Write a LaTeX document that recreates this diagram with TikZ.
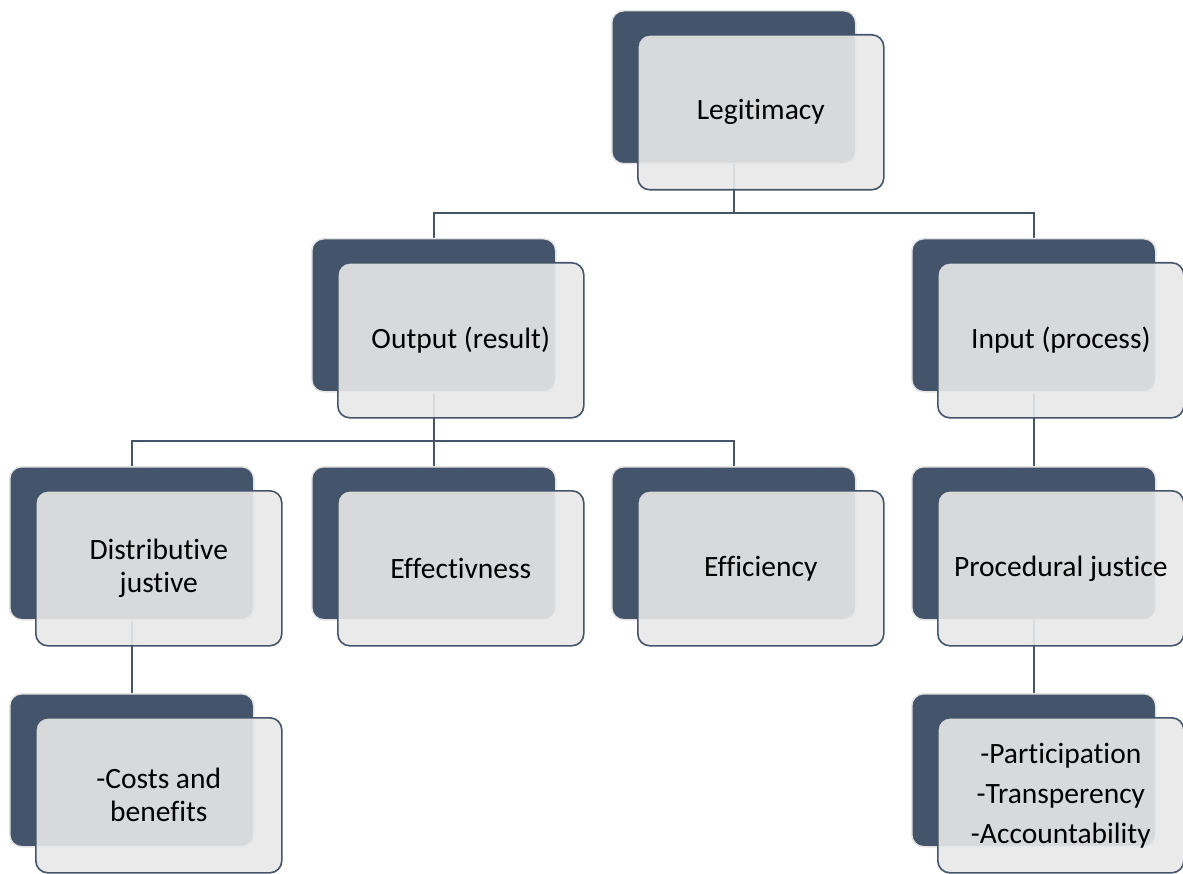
\documentclass[tikz,border=0pt]{standalone}
\usepackage{fontspec}
\setmainfont{Carlito}[Ligatures={NoCommon}]
\usetikzlibrary{calc}
\pgfdeclarelayer{bg}
\pgfsetlayers{bg,main}
\definecolor{slate}{HTML}{44546A}
\definecolor{paper}{HTML}{E8E8E8}
\definecolor{rim}{HTML}{E4E4E4}
\tikzset{
  backcard/.style={draw=rim, line width=1.5pt, fill=slate, rounded corners=12pt,
    minimum width=244pt, minimum height=153pt, anchor=north west, inner sep=0pt},
  frontcard/.style={draw=slate, line width=1.6pt, fill=paper, fill opacity=0.9,
    text opacity=1, rounded corners=12pt, minimum width=246pt, minimum height=155pt,
    anchor=north west, align=center, inner sep=0pt,
    font=\fontsize{29.5}{33}\selectfont},
  link/.style={draw=slate, line width=2pt}
}
% a card: dark back panel plus a translucent front panel carrying the label
\newcommand\card[5][]{%
  \node[backcard] (#2-b) at (#3,#4) {};
  \node[frontcard,#1] (#2) at (#3+26,#4+24) {#5};}
\begin{document}
\begin{tikzpicture}[x=1pt,y=-1pt]
\useasboundingbox (0,0) rectangle (1183,874);

\card{leg}{611}{10}{Legitimacy}
\card{out}{311}{238}{Output (result)}
\card{inp}{911}{238}{Input (process)}
\card{dis}{9}{466}{Distributive\\justive}
\card{eff}{311}{466}{Effectivness}
\card{effi}{611}{466}{Efficiency}
\card{proc}{911}{466}{Procedural justice}
\card{cost}{9}{693}{-Costs and\\benefits}
\card[font=\fontsize{29.5}{40}\selectfont]{part}{911}{693}{-Participation\\-Transperency\\-Accountability}

\coordinate (r1) at (0,213);
\coordinate (r2) at (0,441);
\begin{pgfonlayer}{bg}
  \draw[link] (leg-b.south) -- (leg-b.south |- r1) -| (out-b.north);
  \draw[link] (leg-b.south |- r1) -| (inp-b.north);
  \draw[link] (out-b.south) -- (out-b.south |- r2) -| (dis-b.north);
  \draw[link] (out-b.south |- r2) -| (effi-b.north);
  \draw[link] (out-b.south) -- (eff-b.north);
  \draw[link] (inp-b.south) -- (proc-b.north);
  \draw[link] (dis-b.south) -- (cost-b.north);
  \draw[link] (proc-b.south) -- (part-b.north);
\end{pgfonlayer}
\end{tikzpicture}
\end{document}
